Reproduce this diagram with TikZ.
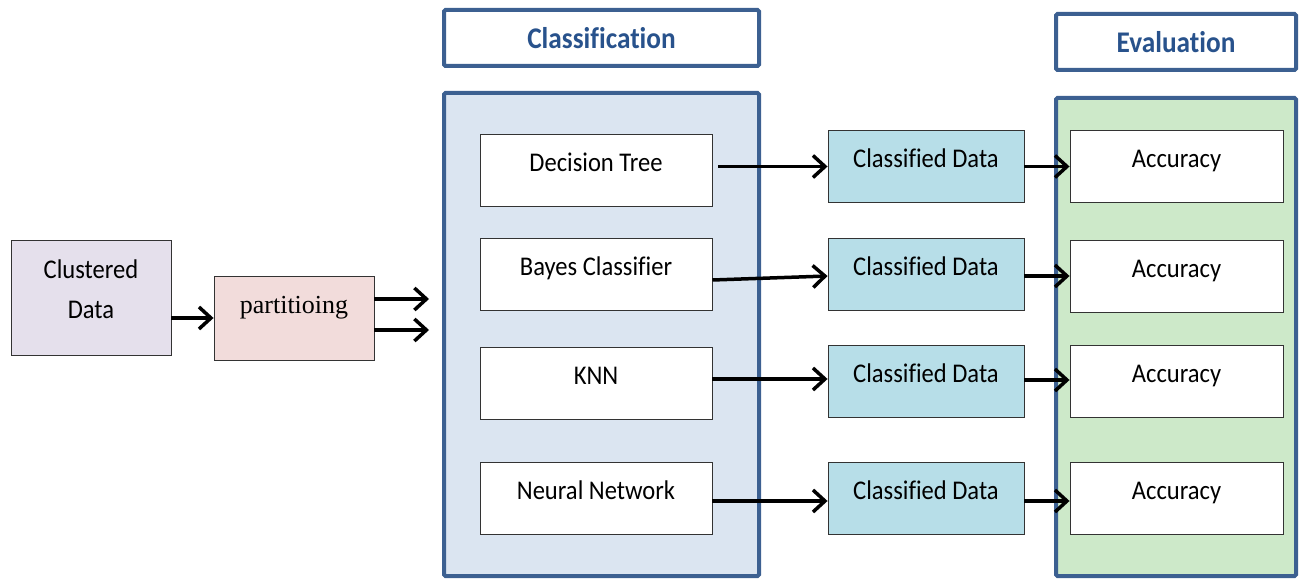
\documentclass[tikz,border=0pt]{standalone}
\usepackage{fontspec}
\setmainfont{Carlito}[Ligatures=NoCommon, FakeStretch=0.91]
\newfontfamily\seriffont{Liberation Serif}
\usetikzlibrary{arrows.meta}

\definecolor{frameblue}{RGB}{60,96,145}
\definecolor{titleblue}{RGB}{40,82,140}
\definecolor{classfill}{RGB}{219,229,241}
\definecolor{evalfill}{RGB}{205,233,201}
\definecolor{datafill}{RGB}{183,222,232}
\definecolor{clusterfill}{RGB}{229,224,236}
\definecolor{partfill}{RGB}{242,220,219}

\begin{document}
\begin{tikzpicture}[x=1pt,y=-1pt,
  txt/.style={font=\fontsize{27}{40}\selectfont},
  box/.style={draw=black!80, line width=0.9pt, inner sep=0pt, txt,
              text height=37pt, text depth=35pt},
  algbox/.style={box, fill=white, minimum width=232pt},
  databox/.style={box, fill=datafill, minimum width=196pt},
  accbox/.style={box, fill=white, minimum width=213pt},
  header/.style={draw=frameblue, line width=4pt, rounded corners=1.5pt, fill=white,
                 inner sep=0pt, text=titleblue, font=\fontsize{30}{36}\selectfont\bfseries},
  panel/.style={draw=frameblue, line width=4pt, rounded corners=1.5pt},
  arr/.style={line width=3.5pt, -{Straight Barb[length=12pt,width=22pt]}}]
\useasboundingbox (0,0) rectangle (1301,580);

% section headers and panels
\node[header, minimum width=315pt, minimum height=56pt] (clsh) at (601.5,38) {Classification};
\node[header, minimum width=240pt, minimum height=56pt] (evah) at (1176,42) {Evaluation};
\draw[panel, fill=classfill] (444,93) rectangle (759,576);
\draw[panel, fill=evalfill] (1056,98) rectangle (1296,576);

% input stage
\node[draw=black!80, line width=0.9pt, fill=clusterfill, minimum width=160pt,
      minimum height=115pt, inner sep=0pt] (clu) at (91,297.5) {};
\node[txt, align=center, inner sep=0pt] (clut) at (91,289) {Clustered\\Data};
\node[draw=black!80, line width=0.9pt, fill=partfill, minimum width=160pt, inner sep=0pt,
      text height=37pt, text depth=47pt, font=\seriffont\fontsize{26}{30}\selectfont]
      (part) at (294,318) {partitioing};

% classifiers
\node[algbox] (dt)  at (596,170.5) {Decision Tree};
\node[algbox] (bay) at (596,274.5) {Bayes Classifier};
\node[algbox] (knn) at (596,383)   {KNN};
\node[algbox] (nn)  at (596,498.5) {Neural Network};

% classified outputs
\node[databox] (cd1) at (926,166.5) {Classified Data};
\node[databox] (cd2) at (926,274)   {Classified Data};
\node[databox] (cd3) at (926,381)   {Classified Data};
\node[databox] (cd4) at (926,498)   {Classified Data};

% evaluation
\node[accbox] (ac1) at (1176.5,166.5) {Accuracy};
\node[accbox] (ac2) at (1176.5,276.5) {Accuracy};
\node[accbox] (ac3) at (1176.5,381)   {Accuracy};
\node[accbox] (ac4) at (1176.5,498.5) {Accuracy};

% arrow ends
\coordinate (in1) at (429,299);
\coordinate (in2) at (429,330);
\coordinate (t1) at (cd1.west);
\coordinate (t2) at ([yshift=-2pt]cd2.west);
\coordinate (t3) at ([yshift=2pt]cd3.west);
\coordinate (t4) at ([yshift=-3pt]cd4.west);
\coordinate (s1) at (cd1.east);
\coordinate (s2) at ([yshift=-2pt]cd2.east);
\coordinate (s3) at ([yshift=1pt]cd3.east);
\coordinate (s4) at ([yshift=-3pt]cd4.east);

% connectors
\draw[arr] (clu.east |- part.west) -- (part.west);
\draw[arr] (part.east |- in1) -- (in1);
\draw[arr] (part.east |- in2) -- (in2);

\draw[arr] ([xshift=6pt]dt.east |- t1) -- (t1);
\draw[arr] ([yshift=-5.5pt]bay.east) -- (t2);
\draw[arr] (knn.east |- t3) -- (t3);
\draw[arr] (nn.east |- t4) -- (t4);

\draw[arr] (s1) -- (s1 -| ac1.west);
\draw[arr] (s2) -- (s2 -| ac2.west);
\draw[arr] (s3) -- (s3 -| ac3.west);
\draw[arr] (s4) -- (s4 -| ac4.west);
\end{tikzpicture}
\end{document}
